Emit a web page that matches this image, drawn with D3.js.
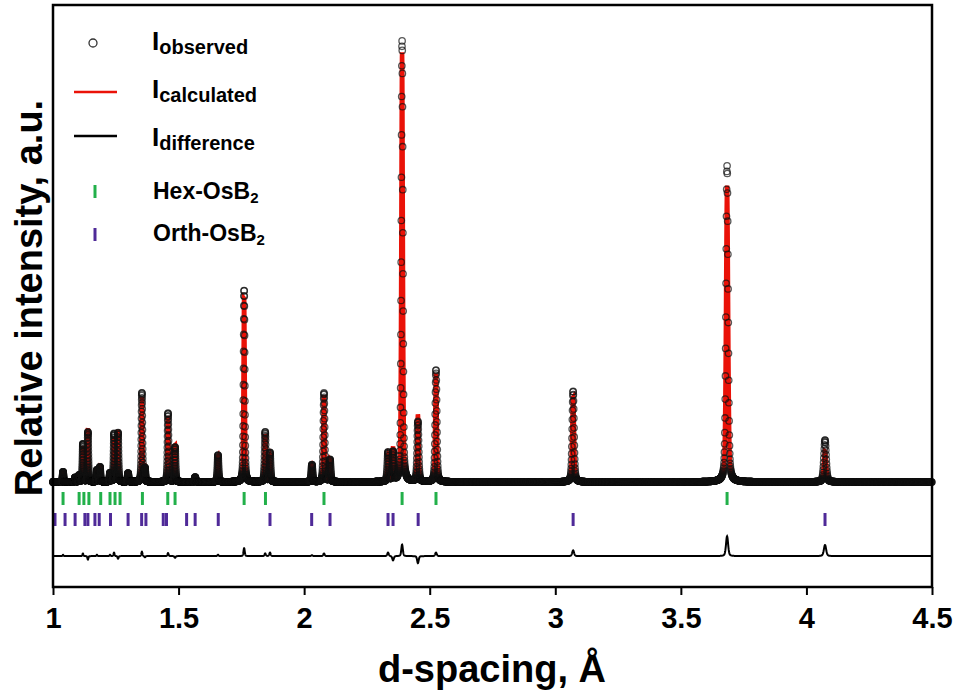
<!DOCTYPE html>
<html>
<head>
<meta charset="utf-8">
<script src="https://cdn.jsdelivr.net/npm/d3@7"></script>
<style>
  html, body { margin: 0; padding: 0; background: #fff; }
  svg { display: block; font-family: "Liberation Sans", Arial, sans-serif; font-weight: bold; }
</style>
</head>
<body>
<svg id="chart" width="958" height="696"></svg>
<script>
// reflections: d-spacing (Å), observed height, obs - calc
const peakD    = [1.040, 1.088, 1.104, 1.119, 1.139, 1.175, 1.187, 1.227, 1.243, 1.259,
                  1.299, 1.354, 1.366, 1.458, 1.486, 1.566, 1.657, 1.761, 1.845, 1.864,
                  2.031, 2.079, 2.103, 2.334, 2.354, 2.390, 2.453, 2.525, 3.071, 3.684, 4.074];
const peakObs  = [2.3, 1.0, 1.5, 8.6, 11.3, 2.7, 3.4, 2.0, 10.9, 11.1,
                  2.0, 20.2, 3.0, 15.6, 7.9, 1.1, 6.1, 43.5, 11.3, 6.6,
                  3.9, 20.2, 5.0, 6.6, 6.6, 100, 13.6, 25.4, 20.6, 71.7, 9.5];
const peakDiff = [0.3, 0, 0, 0.6, -0.8, 0.3, 0, 0.3, 0.8, -0.6,
                  0, 1.0, -0.3, 0.7, -0.4, 0, 0.3, 1.8, 0.6, 0.8,
                  0.2, 0.6, 0, 0.8, -1.0, 2.6, -1.6, 0.8, 1.3, 4.5, 2.5];

// Bragg positions of both phases
const hexTicks  = [1.040, 1.104, 1.123, 1.143, 1.190, 1.227, 1.247, 1.267, 1.356, 1.457,
                   1.486, 1.761, 1.846, 2.079, 2.390, 2.525, 3.684];
const orthTicks = [1.008, 1.048, 1.088, 1.127, 1.139, 1.167, 1.184, 1.229, 1.299, 1.353,
                   1.370, 1.439, 1.452, 1.532, 1.566, 1.658, 1.864, 2.030, 2.103, 2.334,
                   2.354, 2.454, 3.071, 4.074];

const xTicks = [1, 1.5, 2, 2.5, 3, 3.5, 4, 4.5];
const diffOffset = -16.8;

const svg = d3.select('#chart');

const x = d3.scaleLinear().domain([1, 4.5]).range([53, 932]);
const y = d3.scaleLinear().domain([0, 100]).range([482, 41]);

// pseudo-Voigt profile for every reflection
function profile(d, heights){
  let s = 0;
  for (let i = 0; i < peakD.length; i++){
    const fw = 2.3548 * (0.0009 + 0.0009 * peakD[i]);
    const t = (d - peakD[i]) / fw;
    if (Math.abs(t) > 60) continue;
    const g = Math.exp(-4 * Math.LN2 * t * t);
    const l = 1 / (1 + 4 * t * t);
    s += heights[i] * (0.65 * g + 0.35 * l);
  }
  return s;
}

const peakCalc = peakObs.map((v, i) => v - peakDiff[i]);

// TOF-like grid, constant Δd/d
const pts = [];
for (let d = 1; d <= 4.5; d *= 1.00022){
  const o = profile(d, peakObs);
  const c = profile(d, peakCalc);
  pts.push({d: d, obs: o, calc: c, diff: o - c});
}

// calculated pattern
svg.append('path')
  .datum(pts)
  .attr('fill', 'none')
  .attr('stroke', '#ea1208')
  .attr('stroke-width', 4.5)
  .attr('d', d3.line().x(p => x(p.d)).y(p => y(p.calc)));

// observed points
svg.append('g')
  .selectAll('circle')
  .data(pts)
  .join('circle')
  .attr('cx', p => x(p.d))
  .attr('cy', p => y(p.obs))
  .attr('r', 3.2)
  .attr('fill', 'none')
  .attr('stroke', '#111')
  .attr('stroke-width', 1.3)
  .attr('stroke-opacity', 0.7);

// difference
svg.append('path')
  .datum(pts)
  .attr('fill', 'none')
  .attr('stroke', '#000')
  .attr('stroke-width', 2)
  .attr('d', d3.line().x(p => x(p.d)).y(p => y(p.diff + diffOffset)));

// reflection markers
svg.append('g').selectAll('line')
  .data(hexTicks)
  .join('line')
  .attr('x1', d => x(d)).attr('x2', d => x(d))
  .attr('y1', 492).attr('y2', 505)
  .attr('stroke', '#22b04a').attr('stroke-width', 3);

svg.append('g').selectAll('line')
  .data(orthTicks)
  .join('line')
  .attr('x1', d => x(d)).attr('x2', d => x(d))
  .attr('y1', 513).attr('y2', 526)
  .attr('stroke', '#4f2a98').attr('stroke-width', 3);

// frame
svg.append('rect')
  .attr('x', 53).attr('y', 5)
  .attr('width', 879).attr('height', 582)
  .attr('fill', 'none')
  .attr('stroke', '#000')
  .attr('stroke-width', 2.5);

const xAxis = svg.append('g')
  .attr('transform', 'translate(0,587)')
  .call(d3.axisBottom(x).tickValues(xTicks).tickSize(8).tickPadding(12)
    .tickFormat(d3.format('')));
xAxis.select('.domain').remove();
xAxis.selectAll('line').attr('stroke-width', 2);
xAxis.selectAll('text')
  .attr('font-size', 29)
  .attr('font-family', '"Liberation Sans", Arial, sans-serif')
  .attr('font-weight', 'bold')
  .attr('fill', '#000');

svg.append('text')
  .attr('x', 492).attr('y', 682)
  .attr('text-anchor', 'middle')
  .attr('font-size', 38)
  .text('d-spacing, Å');

svg.append('text')
  .attr('transform', 'translate(42,298) rotate(-90)')
  .attr('text-anchor', 'middle')
  .attr('font-size', 38)
  .text('Relative intensity, a.u.');

// legend
const lg = svg.append('g');
lg.append('circle').attr('cx', 93).attr('cy', 43).attr('r', 4)
  .attr('fill', 'none').attr('stroke', '#333').attr('stroke-width', 1.3);
lg.append('line').attr('x1', 74).attr('x2', 117).attr('y1', 92).attr('y2', 92)
  .attr('stroke', '#ea1208').attr('stroke-width', 2.5);
lg.append('line').attr('x1', 74).attr('x2', 117).attr('y1', 136).attr('y2', 136)
  .attr('stroke', '#000').attr('stroke-width', 2.5);
lg.append('line').attr('x1', 95).attr('x2', 95).attr('y1', 185).attr('y2', 198)
  .attr('stroke', '#22b04a').attr('stroke-width', 3);
lg.append('line').attr('x1', 95).attr('x2', 95).attr('y1', 228).attr('y2', 241)
  .attr('stroke', '#4f2a98').attr('stroke-width', 3);

const subs = [['observed', 50], ['calculated', 98], ['difference', 146]];
subs.forEach(([s, by]) => {
  const t = lg.append('text').attr('x', 152).attr('y', by);
  t.append('tspan').attr('font-size', 26).text('I');
  t.append('tspan').attr('font-size', 20).attr('dy', 4).text(s);
});

const phases = [['Hex-OsB', 199], ['Orth-OsB', 241]];
phases.forEach(([s, by]) => {
  const t = lg.append('text').attr('x', 153).attr('y', by);
  t.append('tspan').attr('font-size', 23).text(s);
  t.append('tspan').attr('font-size', 15).attr('dy', 4).text('2');
});
</script>
</body>
</html>
